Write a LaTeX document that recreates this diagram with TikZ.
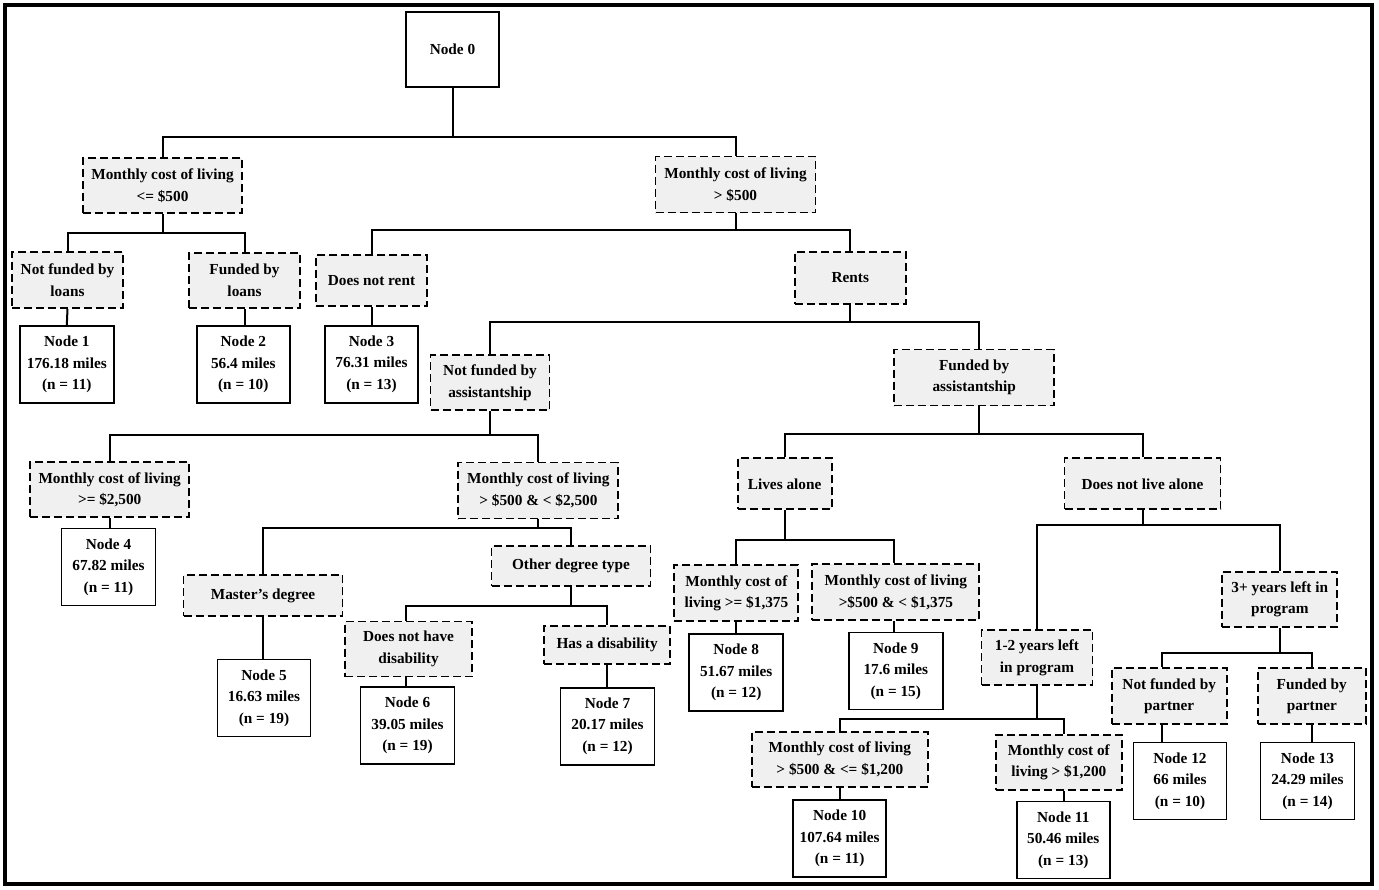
\documentclass[tikz,border=0pt]{standalone}
\usepackage{fontspec}
\setmainfont{Liberation Serif}
\usetikzlibrary{calc}
\definecolor{boxgray}{RGB}{240,240,240}
\begin{document}
\begin{tikzpicture}[x=0.5pt,y=-0.5pt,
  boxfont/.style={font=\bfseries\fontsize{7.65}{10.75}\selectfont},
  split/.style={draw, dash pattern=on 4pt off 2pt, fill=boxgray, line width=0.95pt, align=center, inner sep=0pt, boxfont},
  leaf/.style={draw, fill=white, line width=0.95pt, align=center, inner sep=0pt, boxfont},
  sz/.style 2 args={minimum width=#1*0.5pt, minimum height=#2*0.5pt},
  conn/.style={line width=1pt}]
\useasboundingbox (0,0) rectangle (1379,889);
\draw[line width=1.8pt] (5,5) rectangle (1372,884);

% nodes
\node[leaf,sz={93}{75}] (n0) at (452.5,49.5) {Node 0};
\node[split,sz={159}{55}] (s1) at (162.5,185.5) {Monthly cost of living\\<= \$500};
\node[split,sz={160}{56}] (s2) at (735.5,184.5) {Monthly cost of living\\> \$500};
\node[split,sz={111}{56}] (s3) at (67.5,280) {Not funded by\\loans};
\node[split,sz={111}{55}] (s4) at (244.5,280.5) {Funded by\\loans};
\node[split,sz={111}{51}] (s5) at (371.5,280.5) {Does not rent};
\node[split,sz={111}{52}] (s6) at (850.3,277.8) {Rents};
\node[leaf,sz={94}{77}] (L1) at (66.8,364.5) {Node 1\\176.18 miles\\(n = 11)};
\node[leaf,sz={93}{77}] (L2) at (243.3,364.5) {Node 2\\56.4 miles\\(n = 10)};
\node[leaf,sz={93}{77}] (L3) at (371.5,364.3) {Node 3\\76.31 miles\\(n = 13)};
\node[split,sz={119}{55}] (s7) at (490,382.5) {Not funded by\\assistantship};
\node[split,sz={160}{56}] (s8) at (974.2,377.5) {Funded by\\assistantship};
\node[split,sz={159}{55}] (s9) at (109.7,489.8) {Monthly cost of living\\>= \$2,500};
\node[leaf,sz={94}{77}] (L4) at (108.5,567) {Node 4\\67.82 miles\\(n = 11)};
\node[split,sz={160}{56}] (s10) at (538.4,490.5) {Monthly cost of living\\> \$500 \& < \$2,500};
\node[split,sz={159}{41}] (s11) at (263,595.7) {Master’s degree};
\node[leaf,sz={93}{77}] (L5) at (264,698) {Node 5\\16.63 miles\\(n = 19)};
\node[split,sz={159}{40}] (s12) at (571,565.8) {Other degree type};
\node[split,sz={127}{55}] (s13) at (408.5,649) {Does not have\\disability};
\node[leaf,sz={94}{77}] (L6) at (407.5,725.8) {Node 6\\39.05 miles\\(n = 19)};
\node[split,sz={126}{38}] (s14) at (607.1,644.8) {Has a disability};
\node[leaf,sz={94}{77}] (L7) at (607.5,726.2) {Node 7\\20.17 miles\\(n = 12)};
\node[split,sz={94}{51}] (s15) at (784.6,483.8) {Lives alone};
\node[split,sz={156}{51}] (s16) at (1142.5,483.8) {Does not live alone};
\node[split,sz={124}{56}] (s17) at (736.4,593.2) {Monthly cost of\\living >= \$1,375};
\node[split,sz={167}{56}] (s18) at (895.9,592.2) {Monthly cost of living\\>\$500 \& < \$1,375};
\node[leaf,sz={94}{77}] (L8) at (736.2,672.7) {Node 8\\51.67 miles\\(n = 12)};
\node[leaf,sz={93.5}{77}] (L9) at (895.8,671) {Node 9\\17.6 miles\\(n = 15)};
\node[split,sz={111}{55}] (s19) at (1037,657.7) {1-2 years left\\in program};
\node[split,sz={115}{55}] (s20) at (1279.8,599.5) {3+ years left in\\program};
\node[split,sz={176}{55}] (s21) at (839.9,759.3) {Monthly cost of living\\> \$500 \& <= \$1,200};
\node[leaf,sz={93.5}{77}] (L10) at (839.6,838.7) {Node 10\\107.64 miles\\(n = 11)};
\node[split,sz={126}{55}] (s22) at (1058.8,762.5) {Monthly cost of\\living > \$1,200};
\node[leaf,sz={93}{77}] (L11) at (1063.3,840) {Node 11\\50.46 miles\\(n = 13)};
\node[split,sz={115}{56}] (s23) at (1169.2,696.2) {Not funded by\\partner};
\node[split,sz={108}{56}] (s24) at (1311.8,696.2) {Funded by\\partner};
\node[leaf,sz={93}{77}] (L12) at (1180,781) {Node 12\\66 miles\\(n = 10)};
\node[leaf,sz={94}{77}] (L13) at (1307.5,781) {Node 13\\24.29 miles\\(n = 14)};

% bus coordinates
\coordinate (b0) at (453,137);
\coordinate (b1) at (163,232.7);
\coordinate (b2) at (735.5,229.7);
\coordinate (b3) at (850,321.7);
\coordinate (b4) at (490,435);
\coordinate (b5) at (538.6,528.3);
\coordinate (b6) at (571,606);
\coordinate (b7) at (979,434);
\coordinate (b8) at (784.6,540);
\coordinate (b9) at (1142.5,525.3);
\coordinate (b10) at (1037,719);
\coordinate (b11) at (1279.8,653.3);

% connectors
\draw[conn] (n0.south) -- (n0.south |- b0) -| (s1.north);
\draw[conn] (n0.south |- b0) -| (s2.north);
\draw[conn] (s1.south) -- (s1.south |- b1) -| (s3.north);
\draw[conn] (s1.south |- b1) -| (s4.north);
\draw[conn] (s2.south) -- (s2.south |- b2) -| (s5.north);
\draw[conn] (s2.south |- b2) -| (s6.north);
\draw[conn] (s3.south) -- (L1.north);
\draw[conn] (s4.south) -- (s4.south |- L2.north);
\draw[conn] (s5.south) -- (L3.north);
\draw[conn] (s6.south) -- (s6.south |- b3) -| (s7.north);
\draw[conn] (s6.south |- b3) -| ([xshift=2.4pt]s8.north);
\draw[conn] (s7.south) -- (s7.south |- b4) -| (s9.north);
\draw[conn] (s7.south |- b4) -| (s10.north);
\draw[conn] (s9.south) -- (s9.south |- L4.north);
\draw[conn] (s10.south) -- (s10.south |- b5) -| (s11.north);
\draw[conn] (s10.south |- b5) -| (s12.north);
\draw[conn] (s11.south) -- (s11.south |- L5.north);
\draw[conn] (s12.south) -- (s12.south |- b6) -| ([xshift=-1.2pt]s13.north);
\draw[conn] (s12.south |- b6) -| (s14.north);
\draw[conn] ([xshift=-1.2pt]s13.south) -- ([xshift=-1.2pt]s13.south |- L6.north);
\draw[conn] (s14.south) -- (s14.south |- L7.north);
\draw[conn] ([xshift=2.4pt]s8.south) -- ([xshift=2.4pt]s8.south |- b7) -| (s15.north);
\draw[conn] ([xshift=2.4pt]s8.south |- b7) -| (s16.north);
\draw[conn] (s15.south) -- (s15.south |- b8) -| (s17.north);
\draw[conn] (s15.south |- b8) -| ([xshift=-0.8pt]s18.north);
\draw[conn] (s17.south) -- (s17.south |- L8.north);
\draw[conn] ([xshift=-0.8pt]s18.south) -- ([xshift=-0.8pt]s18.south |- L9.north);
\draw[conn] (s16.south) -- (s16.south |- b9) -| (s19.north);
\draw[conn] (s16.south |- b9) -| (s20.north);
\draw[conn] (s19.south) -- (s19.south |- b10) -| (s21.north);
\draw[conn] (s19.south |- b10) -| ([xshift=2.6pt]s22.north);
\draw[conn] (s21.south) -- (s21.south |- L10.north);
\draw[conn] ([xshift=2.6pt]s22.south) -- ([xshift=2.6pt]s22.south |- L11.north);
\draw[conn] (s20.south) -- (s20.south |- b11) -| ([xshift=-3.75pt]s23.north);
\draw[conn] (s20.south |- b11) -| (s24.north);
\draw[conn] ([xshift=-3.75pt]s23.south) -- ([xshift=-3.75pt]s23.south |- L12.north);
\draw[conn] (s24.south) -- (s24.south |- L13.north);
\end{tikzpicture}
\end{document}
